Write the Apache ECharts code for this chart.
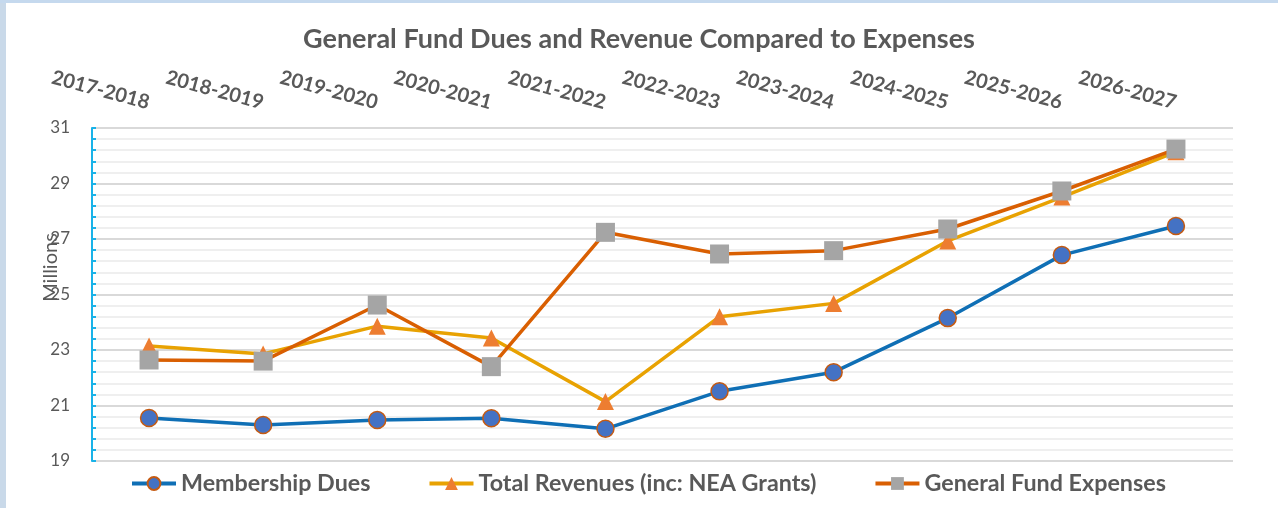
<!DOCTYPE html>
<html><head><meta charset="utf-8">
<script src="https://cdn.jsdelivr.net/npm/echarts@6/dist/echarts.min.js"></script>
<style>html,body{margin:0;padding:0;background:#fff}#c{width:1278px;height:508px}</style>
</head><body><div id="c"></div>
<script>
const categories = ['2017-2018','2018-2019','2019-2020','2020-2021','2021-2022','2022-2023','2023-2024','2024-2025','2025-2026','2026-2027'];
const membershipDues = [20.55, 20.30, 20.48, 20.54, 20.16, 21.51, 22.20, 24.15, 26.42, 27.47];
const totalRevenues = [23.14, 22.86, 23.86, 23.43, 21.14, 24.20, 24.68, 26.93, 28.51, 30.14];
const generalFundExpenses = [22.64, 22.60, 24.62, 22.40, 27.24, 26.46, 26.58, 27.36, 28.73, 30.24];
const yTicks = {min: 19, max: 31, interval: 2};

const txt = '#595959';
const font = 'Lato, "Open Sans", sans-serif';
const chart = echarts.init(document.getElementById('c'));
chart.setOption({
  backgroundColor: '#fff',
  animation: false,
  graphic: [
    {type:'rect', shape:{x:0,y:0,width:6,height:508}, style:{fill:'#c9d9e9'}, z:-1},
    {type:'rect', shape:{x:0,y:0,width:1278,height:3}, style:{fill:'#c5d9ee'}, z:-1}
  ],
  title: {
    text: 'General Fund Dues and Revenue Compared to Expenses',
    left: 'center', top: 21,
    textStyle: {color: txt, fontSize: 27, fontWeight: 'bold', fontFamily: font}
  },
  legend: {
    bottom: 8, left: 125, itemWidth: 44, itemHeight: 16, itemGap: 57,
    lineStyle: {width: 4},
    textStyle: {color: txt, fontSize: 23.3, fontWeight: 'bold', fontFamily: font}
  },
  grid: {left: 92, right: 45, top: 128, bottom: 47},
  xAxis: {
    type: 'category', position: 'top', data: categories, boundaryGap: true,
    axisLine: {show: false}, axisTick: {show: false},
    axisLabel: {rotate: 15, color: txt, fontSize: 20, fontWeight: 'bold', fontFamily: font, margin: 25}
  },
  yAxis: {
    type: 'value', min: yTicks.min, max: yTicks.max, interval: yTicks.interval,
    name: 'Millions', nameLocation: 'middle', nameRotate: 90, nameGap: 31, nameMoveOverlap: false,
    nameTextStyle: {color: txt, fontSize: 20, fontFamily: font, padding: [0, 0, 0, 54]},
    axisLine: {show: true, lineStyle: {color: '#19b2e8', width: 2}},
    axisTick: {show: true, inside: true, length: 4, lineStyle: {color: '#19b2e8', width: 2}},
    minorTick: {show: true, splitNumber: 5, length: 4, lineStyle: {color: '#19b2e8', width: 2}},
    axisLabel: {color: txt, fontSize: 17, fontFamily: font, margin: 22},
    splitLine: {show: true, lineStyle: {color: '#d9d9d9', width: 2}},
    minorSplitLine: {show: true, lineStyle: {color: '#efefef', width: 2}}
  },
  series: [
    {name: 'Membership Dues', type: 'line', data: membershipDues,
     symbol: 'circle', symbolSize: 17,
     lineStyle: {color: '#0f6fb5', width: 3.5},
     itemStyle: {color: '#4472c4', borderColor: '#c55a11', borderWidth: 1.5}},
    {name: 'Total Revenues (inc: NEA Grants)', type: 'line', data: totalRevenues,
     symbol: 'triangle', symbolSize: 17,
     lineStyle: {color: '#e8a202', width: 3.5},
     itemStyle: {color: '#ed7d31', borderWidth: 0}},
    {name: 'General Fund Expenses', type: 'line', data: generalFundExpenses,
     symbol: 'rect', symbolSize: 19,
     lineStyle: {color: '#d95f02', width: 3.5},
     itemStyle: {color: '#a5a5a5', borderWidth: 0}}
  ]
});
</script></body></html>
